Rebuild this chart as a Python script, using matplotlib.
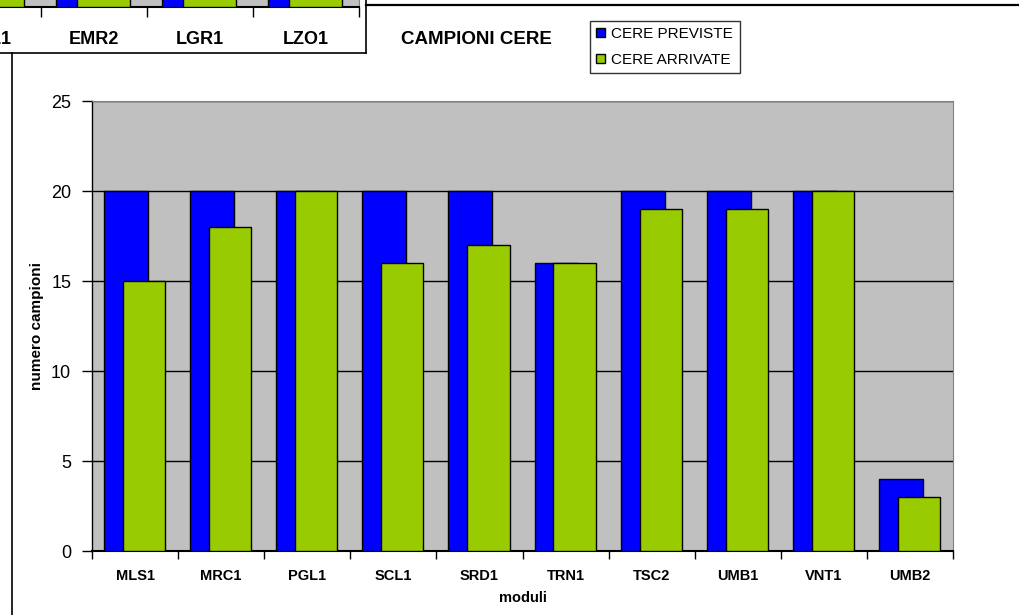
import matplotlib.pyplot as plt
import numpy as np
from matplotlib.lines import Line2D

plt.rcParams['font.family'] = ['Liberation Sans', 'DejaVu Sans']

# main chart data
moduli = ['MLS1', 'MRC1', 'PGL1', 'SCL1', 'SRD1', 'TRN1', 'TSC2', 'UMB1', 'VNT1', 'UMB2']
previste = [20, 20, 20, 20, 20, 16, 20, 20, 20, 4]
arrivate = [15, 18, 20, 16, 17, 16, 19, 19, 20, 3]

# cropped neighbour chart (only the bottom is visible)
frag_moduli = ['CAL1', 'EMR2', 'LGR1', 'LZO1']
frag_previste = [20, 20, 20, 20]
frag_arrivate = [20, 20, 20, 20]

blue = '#0000FF'
green = '#99CC00'
grey = '#C0C0C0'

W, H = 1020, 615
fig = plt.figure(figsize=(W / 100, H / 100), dpi=100)


def box(x0, y0, x1, y1):
    # pixel box (top-left origin) -> figure fraction rect
    return [x0 / W, 1 - y1 / H, (x1 - x0) / W, (y1 - y0) / H]


def line(xs, ys, **kw):
    fig.add_artist(Line2D([x / W for x in xs], [1 - y / H for y in ys],
                          transform=fig.transFigure, **kw))


# outer frames
line([12, 12], [53, 615], color='black', lw=1.2)
line([366, 1020], [5, 5], color='black', lw=1.6)

# ---- main chart
ax = fig.add_axes(box(92, 101, 953, 551))
ax.set_facecolor(grey)
x = np.arange(len(moduli))
ax.bar(x - 0.105, previste, width=0.51, color=blue, edgecolor='black', lw=1, zorder=3,
       label='CERE PREVISTE')
ax.bar(x + 0.105, arrivate, width=0.49, color=green, edgecolor='black', lw=1, zorder=4,
       label='CERE ARRIVATE')
ax.set_xlim(-0.5, len(moduli) - 0.5)
ax.set_ylim(0, 25)
ax.set_yticks([0, 5, 10, 15, 20, 25])
ax.yaxis.grid(True, color='black', lw=1, zorder=1)
ax.set_xticks(x)
ax.set_xticklabels(moduli, fontsize=10.5, fontweight='bold')
ax.set_xticks(np.arange(len(moduli) + 1) - 0.5, minor=True)
ax.tick_params(axis='x', which='major', length=0, pad=13)
ax.tick_params(axis='x', which='minor', length=6, width=1)
ax.tick_params(axis='y', length=7, width=1, pad=8, labelsize=13)
for s in ['top', 'right']:
    ax.spines[s].set_color('#808080')
ax.spines['left'].set_linewidth(1)
ax.spines['bottom'].set_linewidth(1.5)
ax.set_axisbelow(True)
ax.set_ylabel('numero campioni', fontsize=11, fontweight='bold', labelpad=5)
ax.set_xlabel('moduli', fontsize=10.5, fontweight='bold', labelpad=6)

fig.text(476 / W, 1 - 40 / H, 'CAMPIONI CERE', fontsize=13.5, fontweight='bold',
         ha='center', va='center')
leg = ax.legend(loc='upper left', bbox_to_anchor=(590 / W, 1 - 77 / H, 150 / W, 56 / H),
                bbox_transform=fig.transFigure, mode='expand', fontsize=11,
                frameon=True, fancybox=False, edgecolor='black', handlelength=0.55,
                handleheight=0.55, handletextpad=0.45, borderpad=0.4, labelspacing=0.75,
                borderaxespad=0)
leg.get_frame().set_linewidth(1)

# ---- cropped chart at top-left
fx = fig.add_axes(box(-65, -400, 359, 7))
fx.set_facecolor(grey)
xf = np.arange(len(frag_moduli))
fx.bar(xf - 0.1, frag_previste, width=0.52, color=blue, edgecolor='black', lw=1, zorder=3)
fx.bar(xf + 0.09, frag_arrivate, width=0.5, color=green, edgecolor='black', lw=1, zorder=4)
fx.set_xlim(-0.5, len(frag_moduli) - 0.5)
fx.set_ylim(0, 22)
fx.set_yticks([])
fx.set_xticks(xf)
fx.set_xticklabels(frag_moduli, fontsize=13, fontweight='bold')
fx.set_xticks(np.arange(len(frag_moduli) + 1) - 0.5, minor=True)
fx.tick_params(axis='x', which='major', length=0, pad=17)
fx.tick_params(axis='x', which='minor', length=7, width=1)
fx.spines['right'].set_color('#808080')
fx.spines['bottom'].set_linewidth(1.5)

line([366, 366], [0, 53], color='black', lw=1.2)
line([0, 366], [53, 53], color='black', lw=1.2)

fig.savefig('out.png', dpi=100)
